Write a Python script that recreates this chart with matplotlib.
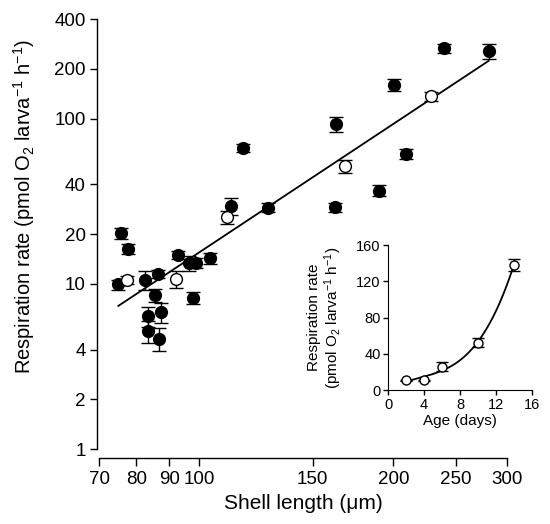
import numpy as np
import matplotlib
matplotlib.use("Agg")
import matplotlib.pyplot as plt
from matplotlib.ticker import FixedLocator, NullLocator, FixedFormatter

plt.rcParams["font.family"] = ["Liberation Sans", "DejaVu Sans"]
plt.rcParams["mathtext.fontset"] = "custom"
plt.rcParams["mathtext.rm"] = "Liberation Sans"
plt.rcParams["mathtext.it"] = "Liberation Sans:italic"
plt.rcParams["mathtext.bf"] = "Liberation Sans:bold"

# main panel: respiration vs shell length (filled = field larvae, open = cultured series)
filled_len = [75.6, 77.5, 74.9, 82.6, 86.5, 85.6, 83.5, 87.4, 83.4, 86.8,
              92.7, 96.6, 99.0, 97.9, 104.0, 112.0, 127.7, 117.1, 162.4, 163.2,
              190.2, 200.5, 209.5, 239.4, 281.0]
filled_rate = [20.2, 16.3, 9.9, 10.6, 11.5, 8.5, 6.36, 6.73, 5.16, 4.65,
               14.9, 13.3, 13.4, 8.23, 14.26, 29.6, 28.8, 66.5, 29.0, 92.4,
               36.6, 160.5, 61.2, 266.7, 255.8]
filled_err = [1.6, 1.2, 0.7, 1.4, 0.6, 0.75, 0.85, 0.95, 0.77, 0.73,
              0.85, 1.35, 1.0, 0.65, 1.1, 3.5, 1.8, 3.8, 1.7, 10.0,
              2.8, 14.0, 4.6, 16.0, 27.0]

open_len = [77.3, 92.0, 110.4, 168.2, 228.5]
open_rate = [10.55, 10.65, 25.3, 51.3, 136.4]
open_err = [0.6, 1.25, 2.2, 4.6, 8.0]

# power-law fit: log10(R) = intercept + slope*log10(L)
fit_slope = 2.585
fit_intercept = -3.981
fit_len_range = (75.0, 281.0)

x_ticks = [70, 80, 90, 100, 150, 200, 250, 300]
y_ticks = [1, 2, 4, 10, 20, 40, 100, 200, 400]

# inset: respiration vs age
age_days = [2, 4, 6, 10, 14]
age_rate = [10.5, 10.5, 25.5, 52.0, 138.0]
age_err = [1.0, 1.0, 5.0, 5.0, 7.0]


def main():
    fig = plt.figure(figsize=(5.5, 5.24), dpi=100)
    ax = fig.add_axes([0.18, 0.1431, 0.7418, 0.8206])

    lx = np.logspace(np.log10(fit_len_range[0]), np.log10(fit_len_range[1]), 100)
    ax.plot(lx, 10 ** (fit_intercept + fit_slope * np.log10(lx)),
            color="black", lw=1.3, zorder=2)

    kw = dict(fmt="o", ms=8.5, mec="black", ecolor="black", elinewidth=1.0,
              capsize=5, capthick=1.0, mew=1.0, zorder=3)
    ax.errorbar(filled_len, filled_rate, yerr=filled_err, mfc="black", **kw)
    ax.errorbar(open_len, open_rate, yerr=open_err, mfc="white", **kw)

    ax.set_xscale("log")
    ax.set_yscale("log")
    ax.set_xlim(70, 300)
    ax.set_ylim(1, 400)
    ax.xaxis.set_major_locator(FixedLocator(x_ticks))
    ax.xaxis.set_major_formatter(FixedFormatter([str(t) for t in x_ticks]))
    ax.xaxis.set_minor_locator(NullLocator())
    ax.yaxis.set_major_locator(FixedLocator(y_ticks))
    ax.yaxis.set_major_formatter(FixedFormatter([str(t) for t in y_ticks]))
    ax.yaxis.set_minor_locator(NullLocator())

    for s in ("top", "right"):
        ax.spines[s].set_visible(False)
    ax.spines["left"].set_position(("outward", 1.5))
    ax.spines["bottom"].set_position(("outward", 6.5))
    for s in ("left", "bottom"):
        ax.spines[s].set_linewidth(1.0)
    ax.tick_params(axis="both", labelsize=13.5, width=1.0, length=5, pad=3)
    ax.tick_params(axis="x", length=6)
    ax.patch.set_visible(False)

    ax.set_xlabel("Shell length (μm)", fontsize=15, labelpad=5)
    ax.set_ylabel(r"Respiration rate (pmol O$_2$ larva$^{-1}$ h$^{-1}$)", fontsize=14.5)
    ax.yaxis.set_label_coords(-0.152, 0.563)

    # inset
    ins = fig.add_axes([0.706, 0.2557, 0.2607, 0.2767])
    coef = np.polyfit(age_days, age_rate, 3)
    ax_age = np.linspace(age_days[0], age_days[-1], 100)
    ins.plot(ax_age, np.polyval(coef, ax_age), color="black", lw=1.3, zorder=2)
    ins.errorbar(age_days, age_rate, yerr=age_err, fmt="o", ms=6.5, mfc="white",
                 mec="black", mew=1.0, ecolor="black", elinewidth=1.0,
                 capsize=4.5, capthick=1.0, zorder=3)
    ins.set_xlim(0, 16)
    ins.set_ylim(0, 160)
    ins.set_xticks([0, 4, 8, 12, 16])
    ins.set_yticks([0, 40, 80, 120, 160])
    for s in ("top", "right"):
        ins.spines[s].set_visible(False)
    ins.tick_params(axis="both", labelsize=10.5, width=1.0, length=3.5, pad=2)
    ins.patch.set_visible(False)
    ins.set_xlabel("Age (days)", fontsize=11, labelpad=2)
    ins.set_ylabel("Respiration rate\n" + r"(pmol O$_2$ larva$^{-1}$ h$^{-1}$)",
                   fontsize=11, linespacing=1.1)
    ins.yaxis.set_label_coords(-0.31, 0.5)

    fig.savefig("out.png", dpi=100)


if __name__ == "__main__":
    main()
